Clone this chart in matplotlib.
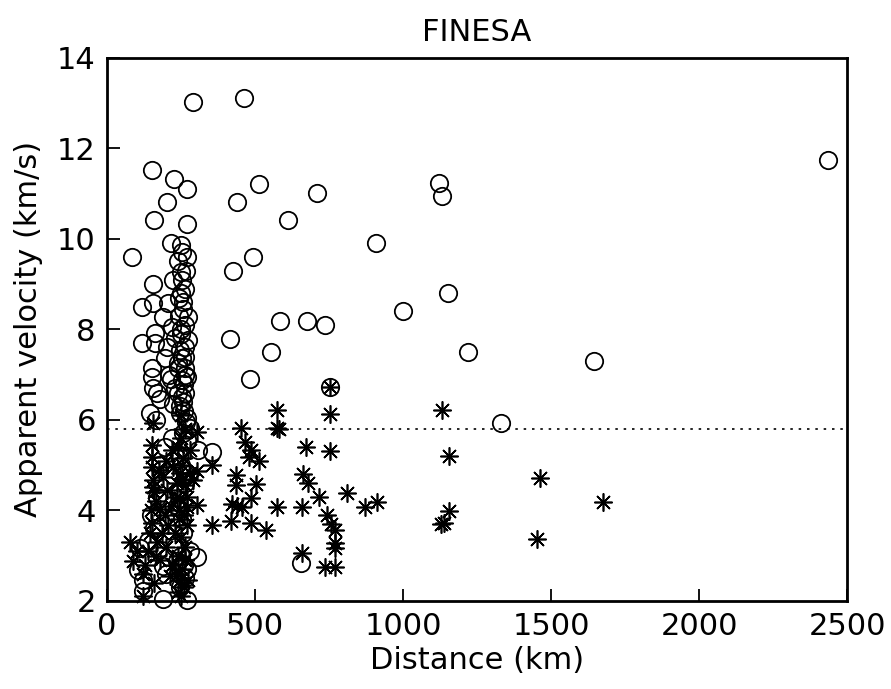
import numpy as np
import matplotlib
matplotlib.use('Agg')
import matplotlib.pyplot as plt

plt.rcParams['font.family'] = ['DejaVu Sans']

# circles: distance (km), apparent velocity (km/s)
circ_x = [292, 463, 2436, 152, 226, 270, 513, 711, 1121, 1131, 203, 439, 611,
          159, 270, 216, 250, 910, 84, 270, 493, 426, 250, 223, 155, 250, 1151,
          118, 155, 206, 257, 1000, 189, 274, 584, 675, 735, 219, 162, 118, 162,
          203, 247, 274, 416, 554, 1218, 1644, 264, 196, 253, 483, 752, 1332,
          356, 654,
          152, 240, 262, 152, 155, 169, 253, 264, 257, 223, 145, 247, 270, 280,
          220, 270, 307, 111, 139, 304, 236, 280, 105, 122, 189, 122, 189, 270,
          247, 265, 240, 265, 180, 250, 260, 240, 265, 250, 245, 262, 240, 255,
          265, 260, 230, 255, 160, 150, 200, 260, 170, 230,
          255, 268, 245, 258, 250, 262, 240, 270, 252, 246, 268, 258, 242, 262,
          236, 256, 250, 272, 180, 165, 210, 195, 230, 215]
circ_y = [13.03, 13.12, 11.74, 11.52, 11.33, 11.1, 11.22, 11.01, 11.23, 10.95,
          10.82, 10.82, 10.42, 10.42, 10.33, 9.91, 9.86, 9.91, 9.6, 9.6, 9.6,
          9.28, 9.27, 9.09, 9.0, 8.8, 8.8, 8.49, 8.58, 8.58, 8.6, 8.4, 8.27,
          8.27, 8.18, 8.18, 8.09, 8.05, 7.92, 7.7, 7.7, 7.6, 7.54, 7.76, 7.78,
          7.49, 7.5, 7.3, 7.38, 7.36, 7.36, 6.9, 6.72, 5.92, 5.3, 2.83,
          7.14, 7.14, 7.14, 6.94, 6.7, 6.59, 6.88, 6.59, 6.39, 6.36, 6.15, 6.15,
          6.04, 5.81, 5.6, 5.55, 5.33, 3.16, 3.33, 2.96, 2.89, 3.11, 2.67, 2.45,
          2.78, 2.22, 2.05, 2.02, 2.3, 2.5, 4.4, 4.8, 5.0, 5.0, 6.8, 6.6, 7.0,
          7.9, 8.3, 8.9, 9.5, 9.1, 8.1, 6.2, 6.7, 3.8, 3.6, 3.9, 2.6, 2.8, 4.3,
          3.2,
          9.7, 9.3, 8.7, 8.45, 8.0, 7.6, 7.25, 6.95, 6.5, 6.3, 5.95, 5.7, 5.2,
          4.6, 4.1, 3.5, 3.0, 2.7, 6.45, 6.0, 7.0, 5.4, 7.8, 6.9]

# asterisks
star_x = [752, 1131, 573, 453, 573, 580, 671, 752, 1154, 466, 486, 480, 513,
          356, 661, 678, 715, 812, 436, 436, 503, 486, 423, 456, 440, 574, 657,
          872, 913, 1463, 1674, 1154, 1127, 1137, 742, 755, 771, 771, 771, 1453,
          657, 735, 771, 356, 419, 486, 536, 752,
          155, 304, 152, 152, 220, 257, 280, 152, 223, 247, 280, 304, 155, 189,
          236, 291, 155, 203, 264, 304, 179, 247, 270, 152, 206, 270, 78, 101,
          88, 122, 213, 247, 274, 122, 165, 250, 255, 245, 260, 250, 265, 240,
          255, 260, 240, 170, 180, 160, 250, 265, 240, 200, 175, 160, 150, 145,
          165, 130, 140, 235, 270, 255, 245, 195, 230, 200, 265, 220, 215, 185,
          250, 240]
star_y = [6.12, 6.21, 6.21, 5.81, 5.81, 5.8, 5.39, 5.31, 5.19, 5.5, 5.33, 5.17,
          5.1, 5.0, 4.8, 4.6, 4.29, 4.38, 4.77, 4.55, 4.58, 4.27, 4.15, 4.07,
          4.1, 4.07, 4.07, 4.07, 4.18, 4.71, 4.18, 3.98, 3.69, 3.72, 3.89, 3.69,
          3.56, 3.27, 3.16, 3.36, 3.05, 2.74, 2.74, 3.67, 3.76, 3.73, 3.56, 6.72,
          5.92, 5.73, 5.44, 5.17, 5.33, 5.15, 5.33, 4.95, 4.95, 4.82, 4.82, 4.88,
          4.66, 4.73, 4.6, 4.66, 4.51, 4.45, 4.55, 4.11, 4.04, 4.27, 4.07, 3.71,
          3.67, 3.67, 3.29, 3.11, 2.89, 2.6, 2.55, 2.45, 2.45, 2.1, 4.2, 5.6,
          5.0, 4.0, 3.9, 3.4, 3.2, 3.0, 2.7, 2.3, 2.2, 3.3, 2.9, 2.4, 6.1, 5.8,
          5.4, 5.1, 4.9, 4.4, 4.0, 3.5, 3.0, 2.8, 3.1, 4.3, 4.3, 4.7, 3.8, 3.9,
          3.5, 3.2, 2.9, 2.8, 4.1, 3.5, 2.1, 2.6]

threshold = 5.8

fig = plt.figure(figsize=(8.91, 6.89), dpi=100)
ax = fig.add_axes([0.120, 0.128, 0.831, 0.788])

ax.plot(circ_x, circ_y, linestyle='none', marker='o', markersize=12.5,
        markerfacecolor='none', markeredgecolor='black', markeredgewidth=1.3,
        clip_on=False)
ax.plot(star_x, star_y, linestyle='none', marker=(8, 2, 0), markersize=13,
        markeredgecolor='black', markeredgewidth=1.2, clip_on=False)

ax.axhline(threshold, color='black', linestyle=(0, (1.5, 3.5)), linewidth=1.2)

ax.set_xlim(0, 2500)
ax.set_ylim(2, 14)
ax.set_xticks([0, 500, 1000, 1500, 2000, 2500])
ax.set_yticks([2, 4, 6, 8, 10, 12, 14])

ax.tick_params(direction='in', length=9, width=1.3, labelsize=22, pad=8)
for side in ax.spines.values():
    side.set_linewidth(2)

ax.set_xlabel('Distance (km)', fontsize=22, labelpad=4)
ax.set_ylabel('Apparent velocity (km/s)', fontsize=22, labelpad=10)
ax.set_title('FINESA', fontsize=22, pad=12)

plt.savefig('out.png', dpi=100)
